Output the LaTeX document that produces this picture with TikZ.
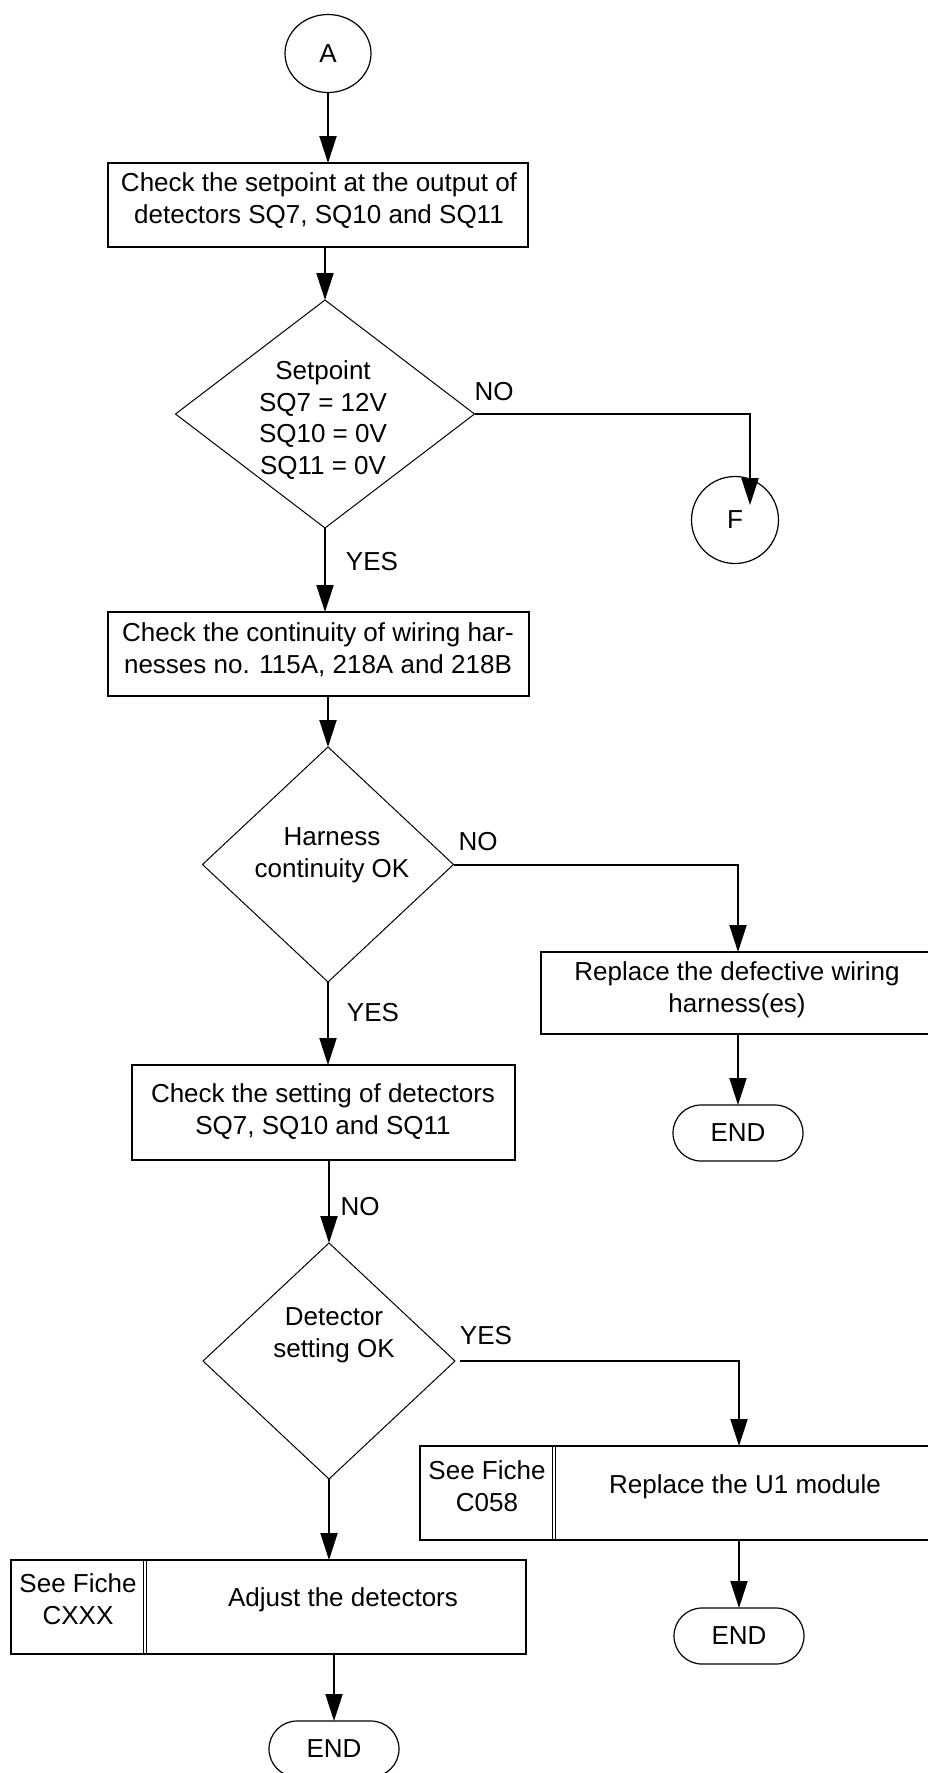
\documentclass[tikz,border=0pt]{standalone}
\usepackage{fontspec}
\setmainfont{Liberation Sans}
\usetikzlibrary{arrows.meta,shapes.geometric}
\newcommand\myfs{\fontsize{26}{31.7}\selectfont}
\begin{document}
\begin{tikzpicture}[x=1pt,y=-1pt,
  every node/.style={font=\myfs,inner sep=0pt,outer sep=0pt},
  procbox/.style={draw,line width=2pt,rectangle},
  decision/.style={draw,line width=1pt,diamond},
  connector/.style={draw,line width=1.2pt},
  term/.style={draw,line width=1.2pt,rectangle,rounded corners=28pt,minimum width=130pt,minimum height=56pt},
  txt/.style={align=center},
  arr/.style={line width=2pt,-{Triangle[length=27pt,width=17pt]}},
  plain/.style={line width=2pt},
  divider/.style={line width=1pt}]
\useasboundingbox (0,0) rectangle (928,1773);

% nodes
\node[connector,ellipse,minimum width=86pt,minimum height=78pt] (A) at (328,53.5) {A};
\node[procbox,minimum width=420pt,minimum height=84pt] (b1) at (318,205) {};
\node[txt] (t1) at (319,200.5) {Check the setpoint at the output of\\detectors SQ7, SQ10 and SQ11};
\node[decision,minimum width=299pt,minimum height=228pt] (d1) at (325,414) {};
\node[txt] (t2) at (323,420) {Setpoint\\SQ7 = 12V\\SQ10 = 0V\\SQ11 = 0V};
\node[connector,circle,minimum size=87pt] (F) at (735,520) {F};
\coordinate (Fin) at (750,505);
\node (no1) at (494,392) {NO};
\node (yes1) at (372,562) {YES};

\node[procbox,minimum width=421pt,minimum height=84pt] (b2) at (318.5,654) {};
\node[txt] (t3) at (318,649.5) {Check the continuity of wiring har-\\nesses no. 115A, 218A and 218B};
\node[decision,minimum width=251pt,minimum height=235pt] (d2) at (328,864.5) {};
\node[txt] (t4) at (332,855) {Harness\\continuity OK};
\node (no2) at (478,842) {NO};
\node[procbox,minimum width=391pt,minimum height=82pt] (b3) at (736.5,993) {};
\node[txt] (t5) at (737,990) {Replace the defective wiring\\harness(es)};
\node[term] (e3) at (738,1133) {END};
\node (yes2) at (373,1013) {YES};

\node[procbox,minimum width=383pt,minimum height=95pt] (b4) at (323.5,1112.5) {};
\node[txt] (t6) at (323,1111.5) {Check the setting of detectors\\SQ7, SQ10 and SQ11};
\node (no3) at (360,1207) {NO};
\node[decision,minimum width=252pt,minimum height=236pt] (d3) at (329,1361) {};
\node[txt] (t7) at (334,1335) {Detector\\setting OK};
\node (yes3) at (486,1336) {YES};

\node[procbox,minimum width=512pt,minimum height=94pt] (b5) at (676,1493) {};
\node[txt] (t8) at (487,1486) {See Fiche\\C058};
\node (t9) at (745,1487) {Replace the U1 module};
\node[term] (e5) at (739,1636) {END};

\node[procbox,minimum width=515pt,minimum height=94pt] (b6) at (268.5,1607) {};
\node[txt] (t10) at (78,1599) {See Fiche\\CXXX};
\node (t11) at (343,1600) {Adjust the detectors};
\node[term] (e6) at (334,1749) {END};

% dividers
\draw[divider] ([xshift=132pt]b5.north west) -- ([xshift=132pt]b5.south west);
\draw[divider] ([xshift=135pt]b5.north west) -- ([xshift=135pt]b5.south west);
\draw[divider] ([xshift=132pt]b6.north west) -- ([xshift=132pt]b6.south west);
\draw[divider] ([xshift=135pt]b6.north west) -- ([xshift=135pt]b6.south west);

% connectors
\draw[arr] (A.south) -- (A.south |- b1.north);
\draw[arr] (d1.north |- b1.south) -- (d1.north);
\draw[arr] (d1.east) -| (Fin);
\draw[arr] (d1.south) -- (d1.south |- b2.north);
\draw[arr] (d2.north |- b2.south) -- (d2.north);
\draw[arr] (d2.east) -| (e3.north |- b3.north);
\draw[arr] (e3.north |- b3.south) -- (e3.north);
\draw[arr] (d2.south) -- (d2.south |- b4.north);
\draw[arr] (d3.north |- b4.south) -- (d3.north);
\draw[arr] ([xshift=5pt]d3.east) -| (e5.north |- b5.north);
\draw[arr] (e5.north |- b5.south) -- (e5.north);
\draw[arr] (d3.south) -- (d3.south |- b6.north);
\draw[arr] (e6.north |- b6.south) -- (e6.north);
\end{tikzpicture}
\end{document}
